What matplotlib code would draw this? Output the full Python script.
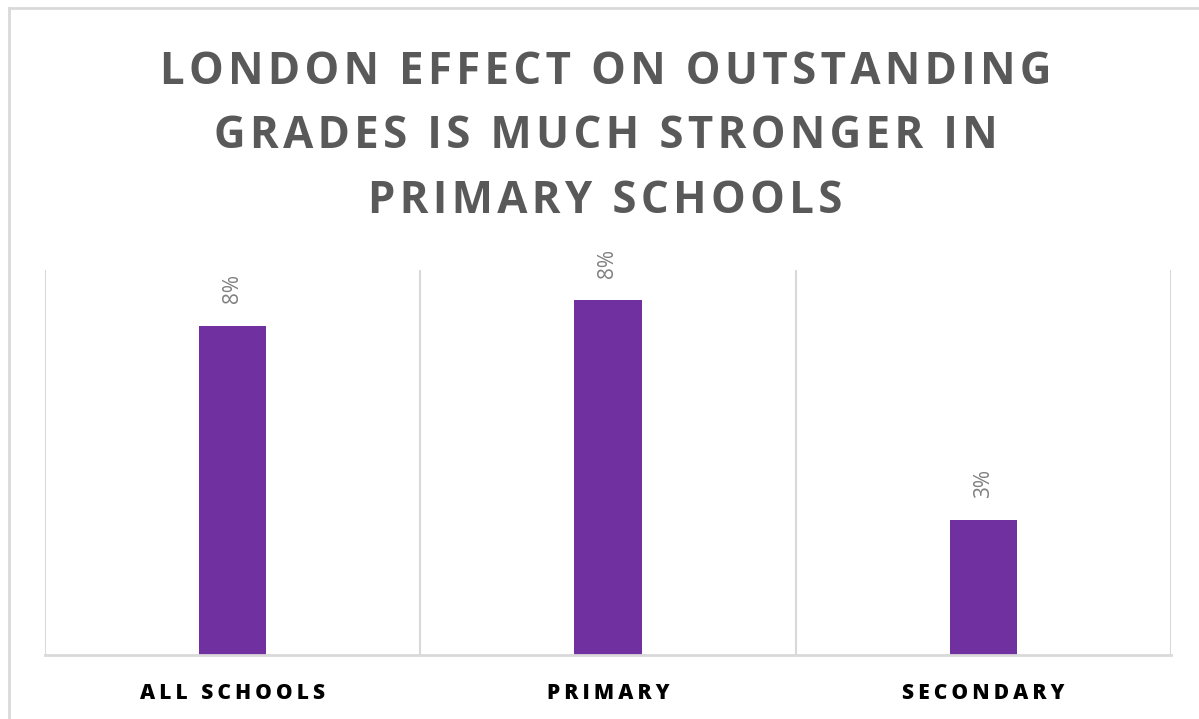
import matplotlib.pyplot as plt
from matplotlib.lines import Line2D

# Data
categories = ["ALL SCHOOLS", "PRIMARY", "SECONDARY"]
values = [7.7, 8.3, 3.15]  # percentage points
title_lines = ["LONDON EFFECT ON OUTSTANDING",
               "GRADES IS MUCH STRONGER IN",
               "PRIMARY SCHOOLS"]

bar_color = "#7030a0"
grid_color = "#d9d9d9"


def spaced(s, sp="\u2009"):
    # fake letter spacing
    return sp.join(list(s))


plt.rcParams['font.family'] = ['Open Sans', 'DejaVu Sans']

fig = plt.figure(figsize=(11.99, 7.19), dpi=100)
ax = fig.add_axes([45/1199, 64/719, (1171-45)/1199, (655-270)/719])

x = range(len(categories))
ax.bar(x, values, width=0.18, color=bar_color)

for xi, v in zip(x, values):
    ax.annotate(f"{v:.0f}%", (xi, v), xytext=(0, 16), textcoords="offset points",
                rotation=90, ha="center", va="bottom", fontsize=15, color="#7f7f7f")

ax.set_xlim(-0.5, 2.5)
ax.set_ylim(0, 9)
ax.set_yticks([])
ax.set_xticks(list(x))
ax.set_xticklabels([spaced(c) for c in categories], fontsize=15, fontweight="heavy",
                   color="black")
ax.tick_params(axis="x", length=0, pad=20)

for b in [-0.5, 0.5, 1.5, 2.5]:
    ax.axvline(b, color=grid_color, lw=1.5, zorder=0)

for s in ["top", "left", "right"]:
    ax.spines[s].set_visible(False)
ax.spines["bottom"].set_color(grid_color)
ax.spines["bottom"].set_linewidth(2)

fig.text(0.505, 1 - 50/719, "\n".join(spaced(l, "\u200a") for l in title_lines),
         ha="center", va="top", fontsize=31.5, fontweight="bold", color="#595959",
         linespacing=1.57)

# outer chart border (top and left edges visible)
fig.add_artist(Line2D([9/1199, 1], [1 - 8/719, 1 - 8/719], color=grid_color, lw=2,
                      transform=fig.transFigure))
fig.add_artist(Line2D([9/1199, 9/1199], [0, 1 - 8/719], color=grid_color, lw=2,
                      transform=fig.transFigure))

fig.savefig("out.png", dpi=100)
